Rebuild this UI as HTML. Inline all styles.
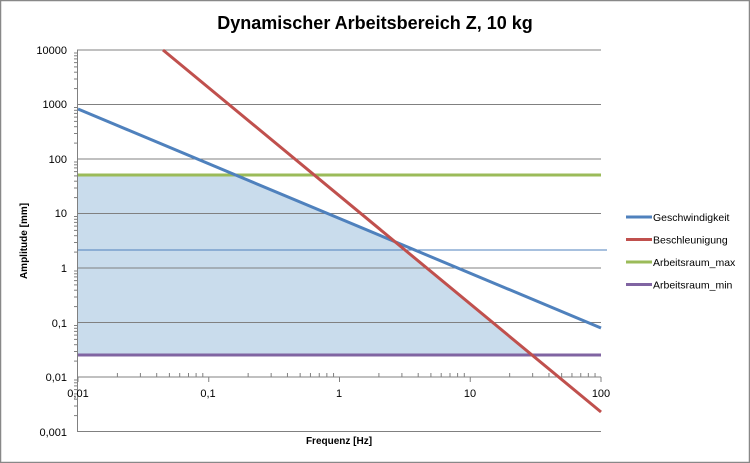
<!DOCTYPE html>
<html><head><meta charset="utf-8"><style>
html,body{margin:0;padding:0;background:#fff}
svg{display:block;font-family:"Liberation Sans",Calibri,sans-serif}
</style></head><body>
<svg width="750" height="463" viewBox="0 0 750 463" xmlns="http://www.w3.org/2000/svg">
<defs>
<g id="yt" stroke="#808080" stroke-width="1">
<line x1="74" x2="77" y1="-16.4" y2="-16.4"/><line x1="74" x2="77" y1="-26" y2="-26"/>
<line x1="74" x2="77" y1="-32.8" y2="-32.8"/><line x1="74" x2="77" y1="-38.1" y2="-38.1"/>
<line x1="74" x2="77" y1="-42.4" y2="-42.4"/><line x1="74" x2="77" y1="-46.1" y2="-46.1"/>
<line x1="74" x2="77" y1="-49.2" y2="-49.2"/><line x1="74" x2="77" y1="-52" y2="-52"/>
</g>
<g id="xt" stroke="#808080" stroke-width="1">
<line x1="39.4" x2="39.4" y1="377" y2="373"/><line x1="62.4" x2="62.4" y1="377" y2="373"/>
<line x1="78.7" x2="78.7" y1="377" y2="373"/><line x1="91.4" x2="91.4" y1="377" y2="373"/>
<line x1="101.7" x2="101.7" y1="377" y2="373"/><line x1="110.5" x2="110.5" y1="377" y2="373"/>
<line x1="118.1" x2="118.1" y1="377" y2="373"/><line x1="124.8" x2="124.8" y1="377" y2="373"/>
<line x1="0" x2="0" y1="377" y2="382"/>
</g>
</defs>
<rect x="0.5" y="0.5" width="749" height="462" fill="#fff" stroke="#888" stroke-width="1.5"/>
<text x="375" y="29" text-anchor="middle" font-size="18" font-weight="bold" fill="#000">Dynamischer Arbeitsbereich Z, 10 kg</text>
<polygon points="78,175 235.6,175 394.9,241.7 532,355 78,355" fill="#c9dcec"/>
<g stroke="#808080" stroke-width="1">
<line x1="77" y1="50" x2="601" y2="50"/>
<line x1="77" y1="104.5" x2="601" y2="104.5"/>
<line x1="77" y1="159" x2="601" y2="159"/>
<line x1="77" y1="213.5" x2="601" y2="213.5"/>
<line x1="77" y1="268" x2="601" y2="268"/>
<line x1="77" y1="322.5" x2="601" y2="322.5"/>
<line x1="77" y1="377" x2="601" y2="377"/>
<line x1="77" y1="431.5" x2="601" y2="431.5"/>
<line x1="77.5" y1="50" x2="77.5" y2="432"/>
</g>
<use href="#yt" transform="translate(0,432)"/><use href="#yt" transform="translate(0,377.5)"/>
<use href="#yt" transform="translate(0,323)"/><use href="#yt" transform="translate(0,268.5)"/>
<use href="#yt" transform="translate(0,214)"/><use href="#yt" transform="translate(0,159.5)"/>
<use href="#yt" transform="translate(0,105)"/>
<use href="#xt" transform="translate(78,0)"/><use href="#xt" transform="translate(208.75,0)"/>
<use href="#xt" transform="translate(339.5,0)"/><use href="#xt" transform="translate(470.25,0)"/>
<line x1="601" x2="601" y1="377" y2="382" stroke="#808080"/>
<line x1="78" y1="250" x2="607" y2="250" stroke="#4f81bd" stroke-width="1"/>
<line x1="78" y1="175" x2="601" y2="175" stroke="#9bbb59" stroke-width="3"/>
<line x1="78" y1="355" x2="601" y2="355" stroke="#8064a2" stroke-width="3"/>
<line x1="78" y1="109" x2="601" y2="328" stroke="#4f81bd" stroke-width="3"/>
<line x1="163" y1="50" x2="601" y2="412" stroke="#c0504d" stroke-width="3"/>
<g font-size="11" fill="#000" text-anchor="end">
<text x="67" y="54">10000</text><text x="67" y="108">1000</text><text x="67" y="163">100</text>
<text x="67" y="217">10</text><text x="67" y="272">1</text><text x="67" y="327">0,1</text>
<text x="67" y="381">0,01</text><text x="67" y="436">0,001</text>
</g>
<g font-size="11" fill="#000" text-anchor="middle">
<text x="78" y="397">0,01</text><text x="208" y="397">0,1</text><text x="339" y="397">1</text>
<text x="470" y="397">10</text><text x="601" y="397">100</text>
</g>
<text x="339" y="444" text-anchor="middle" font-size="10" font-weight="bold">Frequenz [Hz]</text>
<text transform="translate(27,241) rotate(-90)" text-anchor="middle" font-size="10" font-weight="bold">Amplitude [mm]</text>
<g stroke-width="3">
<line x1="626" y1="217" x2="652" y2="217" stroke="#4f81bd"/>
<line x1="626" y1="239.5" x2="652" y2="239.5" stroke="#c0504d"/>
<line x1="626" y1="262" x2="652" y2="262" stroke="#9bbb59"/>
<line x1="626" y1="284.5" x2="652" y2="284.5" stroke="#8064a2"/>
</g>
<g font-size="10.5" fill="#000">
<text x="653" y="221">Geschwindigkeit</text>
<text x="653" y="243.5">Beschleunigung</text>
<text x="653" y="266">Arbeitsraum_max</text>
<text x="653" y="288.5">Arbeitsraum_min</text>
</g>
</svg>
</body></html>
